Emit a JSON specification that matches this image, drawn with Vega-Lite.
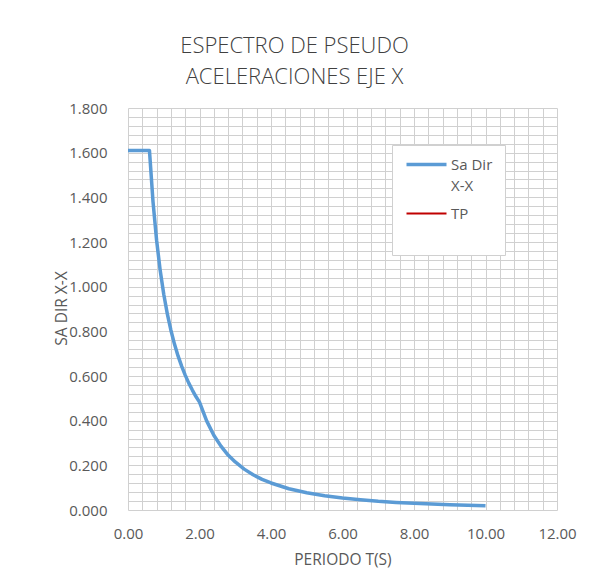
{
  "$schema": "https://vega.github.io/schema/vega-lite/v6.json",
  "width": 429,
  "height": 402,
  "autosize": {"type": "none"},
  "padding": {"left": 128, "top": 108, "right": 33, "bottom": 78},
  "background": "white",
  "title": {
    "text": ["ESPECTRO DE PSEUDO", "ACELERACIONES EJE X"],
    "anchor": "middle",
    "frame": "group",
    "dx": -48,
    "offset": 12,
    "font": "Open Sans",
    "fontWeight": 300,
    "fontSize": 22,
    "lineHeight": 31,
    "color": "#404040"
  },
  "data": {
    "values": [
      {"T": 0.0, "Sa": 1.61, "serie": "Sa Dir X-X"},
      {"T": 0.1, "Sa": 1.61, "serie": "Sa Dir X-X"},
      {"T": 0.2, "Sa": 1.61, "serie": "Sa Dir X-X"},
      {"T": 0.3, "Sa": 1.61, "serie": "Sa Dir X-X"},
      {"T": 0.4, "Sa": 1.61, "serie": "Sa Dir X-X"},
      {"T": 0.5, "Sa": 1.61, "serie": "Sa Dir X-X"},
      {"T": 0.6, "Sa": 1.61, "serie": "Sa Dir X-X"},
      {"T": 0.7, "Sa": 1.38, "serie": "Sa Dir X-X"},
      {"T": 0.8, "Sa": 1.208, "serie": "Sa Dir X-X"},
      {"T": 0.9, "Sa": 1.073, "serie": "Sa Dir X-X"},
      {"T": 1.0, "Sa": 0.966, "serie": "Sa Dir X-X"},
      {"T": 1.1, "Sa": 0.878, "serie": "Sa Dir X-X"},
      {"T": 1.2, "Sa": 0.805, "serie": "Sa Dir X-X"},
      {"T": 1.3, "Sa": 0.743, "serie": "Sa Dir X-X"},
      {"T": 1.4, "Sa": 0.69, "serie": "Sa Dir X-X"},
      {"T": 1.5, "Sa": 0.644, "serie": "Sa Dir X-X"},
      {"T": 1.6, "Sa": 0.604, "serie": "Sa Dir X-X"},
      {"T": 1.7, "Sa": 0.568, "serie": "Sa Dir X-X"},
      {"T": 1.8, "Sa": 0.537, "serie": "Sa Dir X-X"},
      {"T": 1.9, "Sa": 0.508, "serie": "Sa Dir X-X"},
      {"T": 2.0, "Sa": 0.483, "serie": "Sa Dir X-X"},
      {"T": 2.2, "Sa": 0.399, "serie": "Sa Dir X-X"},
      {"T": 2.4, "Sa": 0.335, "serie": "Sa Dir X-X"},
      {"T": 2.6, "Sa": 0.286, "serie": "Sa Dir X-X"},
      {"T": 2.8, "Sa": 0.246, "serie": "Sa Dir X-X"},
      {"T": 3.0, "Sa": 0.215, "serie": "Sa Dir X-X"},
      {"T": 3.25, "Sa": 0.183, "serie": "Sa Dir X-X"},
      {"T": 3.5, "Sa": 0.158, "serie": "Sa Dir X-X"},
      {"T": 3.75, "Sa": 0.137, "serie": "Sa Dir X-X"},
      {"T": 4.0, "Sa": 0.121, "serie": "Sa Dir X-X"},
      {"T": 4.5, "Sa": 0.095, "serie": "Sa Dir X-X"},
      {"T": 5.0, "Sa": 0.077, "serie": "Sa Dir X-X"},
      {"T": 5.5, "Sa": 0.064, "serie": "Sa Dir X-X"},
      {"T": 6.0, "Sa": 0.054, "serie": "Sa Dir X-X"},
      {"T": 6.5, "Sa": 0.046, "serie": "Sa Dir X-X"},
      {"T": 7.0, "Sa": 0.039, "serie": "Sa Dir X-X"},
      {"T": 7.5, "Sa": 0.034, "serie": "Sa Dir X-X"},
      {"T": 8.0, "Sa": 0.03, "serie": "Sa Dir X-X"},
      {"T": 8.5, "Sa": 0.027, "serie": "Sa Dir X-X"},
      {"T": 9.0, "Sa": 0.024, "serie": "Sa Dir X-X"},
      {"T": 9.5, "Sa": 0.021, "serie": "Sa Dir X-X"},
      {"T": 10.0, "Sa": 0.019, "serie": "Sa Dir X-X"}
    ]
  },
  "mark": {"type": "line", "strokeWidth": 3.5, "strokeJoin": "round", "strokeCap": "butt"},
  "encoding": {
    "x": {
      "field": "T",
      "type": "quantitative",
      "scale": {"domain": [0, 12], "nice": false, "zero": false},
      "axis": {
        "title": "PERIODO T(S)",
        "values": [0, 0.4, 0.8, 1.2, 1.6, 2, 2.4, 2.8, 3.2, 3.6, 4, 4.4, 4.8, 5.2, 5.6, 6, 6.4, 6.8, 7.2, 7.6, 8, 8.4, 8.8, 9.2, 9.6, 10, 10.4, 10.8, 11.2, 11.6, 12],
        "labelExpr": "abs(datum.value / 2 - round(datum.value / 2)) < 0.001 ? format(datum.value, '.2f') : ''",
        "labelOverlap": false,
        "labelFlush": false,
        "labelPadding": 16,
        "labelFont": "Open Sans",
        "labelFontSize": 15,
        "labelColor": "#595959",
        "ticks": false,
        "domain": false,
        "grid": true,
        "gridColor": "#d0d0d0",
        "gridWidth": 1,
        "titleFont": "Open Sans",
        "titleFontSize": 15.5,
        "titleFontWeight": "normal",
        "titleColor": "#595959",
        "titleY": 49,
        "titleBaseline": "middle"
      }
    },
    "y": {
      "field": "Sa",
      "type": "quantitative",
      "scale": {"domain": [0, 1.8], "nice": false},
      "axis": {
        "title": "SA DIR X-X",
        "values": [0, 0.04, 0.08, 0.12, 0.16, 0.2, 0.24, 0.28, 0.32, 0.36, 0.4, 0.44, 0.48, 0.52, 0.56, 0.6, 0.64, 0.68, 0.72, 0.76, 0.8, 0.84, 0.88, 0.92, 0.96, 1, 1.04, 1.08, 1.12, 1.16, 1.2, 1.24, 1.28, 1.32, 1.36, 1.4, 1.44, 1.48, 1.52, 1.56, 1.6, 1.64, 1.68, 1.72, 1.76, 1.8],
        "labelExpr": "abs(datum.value * 5 - round(datum.value * 5)) < 0.001 ? format(datum.value, '.3f') : ''",
        "labelOverlap": false,
        "labelFlush": false,
        "labelPadding": 21,
        "labelFont": "Open Sans",
        "labelFontSize": 15,
        "labelColor": "#595959",
        "ticks": false,
        "domain": false,
        "grid": true,
        "gridColor": "#d0d0d0",
        "gridWidth": 1,
        "titleFont": "Open Sans",
        "titleFontSize": 15.5,
        "titleFontWeight": "normal",
        "titleColor": "#595959",
        "titleX": -67,
        "titleY": 200,
        "titleAngle": -90,
        "titleAlign": "center",
        "titleBaseline": "middle"
      }
    },
    "color": {
      "field": "serie",
      "type": "nominal",
      "scale": {"domain": ["Sa Dir X-X", "TP"], "range": ["#5b9bd5", "#c00000"]},
      "legend": {
        "title": null,
        "orient": "none",
        "legendX": 264,
        "legendY": 37,
        "symbolType": "stroke",
        "symbolSize": 1600,
        "symbolStrokeWidth": 3.5,
        "symbolOffset": 15,
        "labelExpr": "datum.label == 'Sa Dir X-X' ? ['Sa Dir', 'X-X'] : [datum.label, ' ']",
        "labelFont": "Open Sans",
        "labelFontSize": 15,
        "labelColor": "#595959",
        "labelOffset": 17,
        "rowPadding": 12,
        "padding": 12,
        "fillColor": "white",
        "strokeColor": "#d0d0d0",
        "encode": {
          "symbols": {"update": {"strokeWidth": {"signal": "datum.value == 'TP' ? 2 : 3.5"}}},
          "labels": {"update": {"lineHeight": {"value": 21}}}
        }
      }
    }
  },
  "config": {"view": {"stroke": null}}
}
